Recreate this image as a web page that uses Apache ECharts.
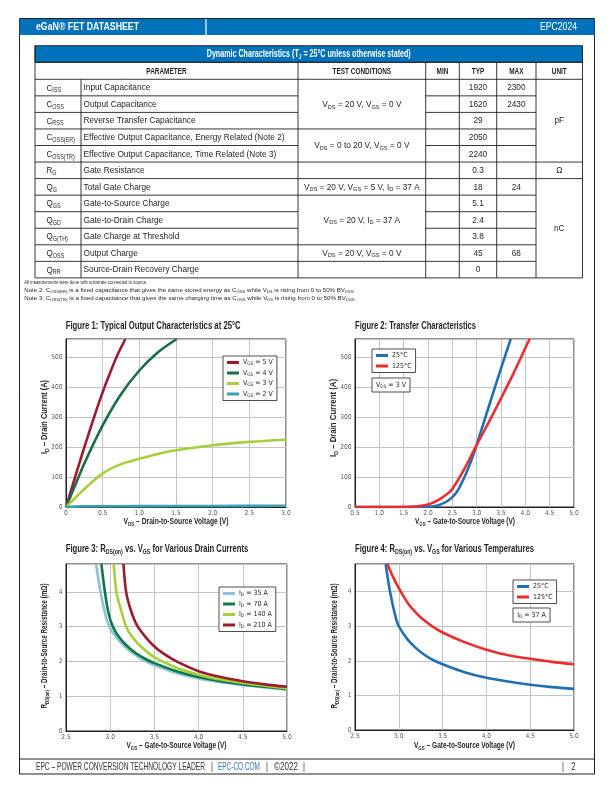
<!DOCTYPE html>
<html><head><meta charset="utf-8">
<script src="https://cdn.jsdelivr.net/npm/echarts@6/dist/echarts.min.js"></script>
<style>html,body{margin:0;padding:0;background:#fff}#c{width:612px;height:792px}</style>
</head><body><div id="c"></div>
<script>
// ================= DATA =================
const tableSymbols = [['C','ISS'],['C','OSS'],['C','RSS'],['C','OSS(ER)'],['C','OSS(TR)'],['R','G'],['Q','G'],['Q','GS'],['Q','GD'],['Q','G(TH)'],['Q','OSS'],['Q','RR']];
const tableParams = ['Input Capacitance','Output Capacitance','Reverse Transfer Capacitance','Effective Output Capacitance, Energy Related (Note 2)','Effective Output Capacitance, Time Related (Note 3)','Gate Resistance','Total Gate Charge','Gate-to-Source Charge','Gate-to-Drain Charge','Gate Charge at Threshold','Output Charge','Source-Drain Recovery Charge'];
const tableMin = ['','','','','','','','','','','',''];
const tableTyp = ['1920','1620','29','2050','2240','0.3','18','5.1','2.4','3.8','45','0'];
const tableMax = ['2300','2430','','','','','24','','','','68',''];
const tableConditions = [[0,2,'V{s|DS} = 20 V, V{s|GS} = 0 V'],[3,4,'V{s|DS} = 0 to 20 V, V{s|GS} = 0 V'],[5,5,''],[6,6,'V{s|DS} = 20 V, V{s|GS} = 5 V, I{s|D} = 37 A'],[7,9,'V{s|DS} = 20 V, I{s|D} = 37 A'],[10,10,'V{s|DS} = 20 V, V{s|GS} = 0 V'],[11,11,'']];
const tableUnits = [[0,4,'pF'],[5,5,'Ω'],[6,11,'nC']];
const tableHeaders = ['PARAMETER','TEST CONDITIONS','MIN','TYP','MAX','UNIT'];
const notes = ['All measurements were done with substrate connected to source.',
 'Note 2: C{s|OSS(ER)} is a fixed capacitance that gives the same stored energy as C{s|OSS} while V{s|DS} is rising from 0 to 50% BV{s|DSS}.',
 'Note 3: C{s|OSS(TR)} is a fixed capacitance that gives the same charging time as C{s|OSS} while V{s|DS} is rising from 0 to 50% BV{s|DSS}.'];

// Figure 1: ID vs VDS
const fig1Names = ['V{s|GS} = 5 V','V{s|GS} = 4 V','V{s|GS} = 3 V','V{s|GS} = 2 V'];
const fig1_vgs5 = [[0,0],[0.1,80],[0.2,160],[0.3,237],[0.4,312],[0.5,383],[0.6,447],[0.7,506],[0.81,560]];
const fig1_vgs4 = [[0,0],[0.1,58],[0.25,145],[0.5,272],[0.75,376],[1.0,455],[1.25,515],[1.51,560]];
const fig1_vgs3 = [[0,0],[0.1,24],[0.25,60],[0.5,112],[0.75,143],[1.0,161],[1.25,177],[1.5,189],[2.0,206],[2.5,217],[3.0,224]];
const fig1_vgs2 = [[0,0],[0.2,2],[1.0,3],[2.0,3.5],[3.0,4]];

// Figure 2: transfer
const fig2Names = ['25°C','125°C'];
const fig2_25C = [[0.5,0],[1.5,0],[1.9,0.3],[2.1,2],[2.25,8],[2.4,20],[2.5,33],[2.6,52],[2.75,100],[2.9,160],[3.0,208],[3.25,335],[3.5,462],[3.7,560]];
const fig2_125C = [[0.5,0],[1.5,0],[1.75,1.5],[2.0,8],[2.2,22],[2.4,44],[2.5,60],[2.75,128],[3.0,207],[3.25,283],[3.5,362],[3.75,443],[4.0,530],[4.09,560]];

// Figure 3: RDS(on) vs VGS, various ID
const fig3Names = ['I{s|D} = 35 A','I{s|D} = 70 A','I{s|D} = 140 A','I{s|D} = 210 A'];
const fig3_35A = [[2.84,4.8],[2.89,4.0],[2.95,3.3],[3.0,2.95],[3.1,2.6],[3.2,2.35],[3.3,2.16],[3.4,2.01],[3.5,1.89],[3.75,1.67],[4.0,1.51],[4.25,1.4],[4.5,1.32],[4.75,1.25],[5.0,1.19]];
const fig3_70A = [[2.9,4.8],[2.94,4.0],[2.98,3.4],[3.03,3.0],[3.1,2.7],[3.2,2.42],[3.3,2.22],[3.4,2.07],[3.5,1.95],[3.75,1.72],[4.0,1.55],[4.25,1.43],[4.5,1.34],[4.75,1.27],[5.0,1.21]];
const fig3_140A = [[3.04,4.8],[3.07,4.0],[3.12,3.5],[3.18,3.0],[3.25,2.7],[3.35,2.42],[3.5,2.12],[3.75,1.82],[4.0,1.62],[4.25,1.48],[4.5,1.38],[4.75,1.3],[5.0,1.23]];
const fig3_210A = [[3.15,4.8],[3.18,4.0],[3.23,3.5],[3.3,3.05],[3.4,2.7],[3.5,2.43],[3.6,2.23],[3.75,2.0],[4.0,1.72],[4.25,1.55],[4.5,1.43],[4.75,1.34],[5.0,1.27]];

// Figure 4: RDS(on) vs VGS, various temperatures
const fig4Names = ['25°C','125°C'];
const fig4_25C = [[2.85,4.8],[2.9,4.0],[2.96,3.3],[3.0,3.0],[3.1,2.62],[3.2,2.36],[3.3,2.16],[3.4,2.01],[3.5,1.9],[3.75,1.67],[4.0,1.51],[4.25,1.4],[4.5,1.31],[4.75,1.24],[5.0,1.19]];
const fig4_125C = [[2.87,4.8],[2.93,4.45],[3.0,4.1],[3.1,3.68],[3.2,3.38],[3.3,3.15],[3.4,2.97],[3.5,2.82],[3.75,2.54],[4.0,2.32],[4.25,2.16],[4.5,2.06],[4.75,1.97],[5.0,1.9]];

// ================= STYLE / LAYOUT =================
const FR = "'Liberation Sans',Arial,sans-serif";
const FC = "'DejaVu Sans Condensed','Liberation Sans',sans-serif";
const INK = '#231f20', BLUE = '#0071bb', GRIDC = '#c4c4c4', TICKC = '#58595b';
const SUB = 0.68;

const cv = document.createElement('canvas').getContext('2d');
function segs(str){ const out=[]; const re=/\{(\w+)\|([^}]*)\}/g; let last=0,m;
  while((m=re.exec(str))){ if(m.index>last) out.push(['',str.slice(last,m.index)]); out.push([m[1],m[2]]); last=re.lastIndex; }
  if(last<str.length) out.push(['',str.slice(last)]); return out; }
function measure(str,fs,fam,fw){ let w=0; for(const [k,t] of segs(str)){ cv.font=`${fw} ${k==='s'?fs*SUB:fs}px ${fam}`; w+=cv.measureText(t).width; } return w; }
function richFor(fs,fam,fw,col){ return { s:{fontSize:fs*SUB,fontFamily:fam,fontWeight:fw,fill:col,color:col,verticalAlign:'bottom',lineHeight:fs*0.5} }; }

const g = [];
function rect(x,y,w,h,fill,stroke,lw){ g.push({type:'rect',silent:true,z:5,shape:{x,y,width:w,height:h},style:{fill:fill||'none',stroke:stroke||null,lineWidth:lw||1}}); }
function line(x1,y1,x2,y2,col,lw){ g.push({type:'line',silent:true,z:6,shape:{x1,y1,x2,y2},style:{stroke:col||INK,lineWidth:lw||0.9}}); }
function txt(x,y,str,o){
  const fs=o.fs, fam=o.fam||FR, fw=o.fw||'normal', col=o.col||INK;
  let sx=o.sx||1; if(o.w) sx=o.w/measure(str,fs,fam,fw);
  g.push({type:'text',silent:true,z:7,x,y,rotation:o.rot||0,scaleX:sx,
    style:{text:str,x:0,y:0,fill:col,fontSize:fs,fontFamily:fam,fontWeight:fw,lineHeight:fs*1.2,
      align:o.align||'left',verticalAlign:'middle',rich:richFor(fs,fam,fw,col)}});
  return sx;
}

// ---- page frame & header ----
rect(19.5,18.5,575,755.5,'none',INK,1);
rect(19.5,19,575,16,BLUE,null);
line(206,19,206,35,'#ffffff',1.2);
txt(36,27.2,'eGaN® FET DATASHEET',{fs:11.5,fw:'bold',col:'#fff',w:103});
txt(577,27.2,'EPC2024',{fs:11.5,col:'#fff',w:37,align:'right'});

// ---- table ----
const TX = [35,81,298,425.7,459.3,496.7,536,582.5];
const TT = 45.7, TH = 62.3, RT = 79.3, RH = 16.55, NR = tableParams.length, TB = RT+NR*RH;
rect(TX[0],TT,TX[7]-TX[0],TH-TT,BLUE,INK,0.9);
txt((TX[0]+TX[7])/2,54.2,'Dynamic Characteristics (T{s|J} = 25°C unless otherwise stated)',{fs:10,fw:'bold',col:'#fff',w:204,align:'center'});
line(TX[0],TT,TX[0],TB); line(TX[7],TT,TX[7],TB);
line(TX[0],TH,TX[7],TH); line(TX[0],RT,TX[7],RT); line(TX[0],TB,TX[7],TB);
line(TX[1],RT,TX[1],TB);
for(let c=2;c<7;c++) line(TX[c],TH,TX[c],TB);
function inGroup(groups,k){ return groups.some(gr=>k>gr[0]&&k<=gr[1]); }
for(let k=1;k<NR;k++){
  const y=RT+k*RH;
  line(TX[0],y,TX[2],y);
  if(!inGroup(tableConditions,k)) line(TX[2],y,TX[3],y);
  line(TX[3],y,TX[6],y);
  if(!inGroup(tableUnits,k)) line(TX[6],y,TX[7],y);
}
const hdrX = [(TX[0]+TX[2])/2,(TX[2]+TX[3])/2,(TX[3]+TX[4])/2,(TX[4]+TX[5])/2,(TX[5]+TX[6])/2,(TX[6]+TX[7])/2];
const hsx = 58.6/measure('TEST CONDITIONS',9,FR,'bold');
tableHeaders.forEach((h,i)=>txt(hdrX[i],(TH+RT)/2+0.3,h,{fs:9,fw:'bold',sx:hsx,align:'center'}));
const bsx = 201/measure(tableParams[3],9,FR,'normal');
const rowY = i=>RT+(i+0.5)*RH+0.3;
for(let i=0;i<NR;i++){
  txt(46.5,rowY(i),tableSymbols[i][0]+'{s|'+tableSymbols[i][1]+'}',{fs:9.5,sx:bsx*0.92});
  txt(TX[1]+2.5,rowY(i),tableParams[i],{fs:9,sx:bsx});
  if(tableMin[i]) txt(hdrX[2],rowY(i),tableMin[i],{fs:9,sx:bsx,align:'center'});
  if(tableTyp[i]) txt(hdrX[3],rowY(i),tableTyp[i],{fs:9,sx:bsx,align:'center'});
  if(tableMax[i]) txt(hdrX[4],rowY(i),tableMax[i],{fs:9,sx:bsx,align:'center'});
}
tableConditions.forEach(([a,b,t])=>{ if(t) txt(hdrX[1],(rowY(a)+rowY(b))/2,t,{fs:9,sx:bsx,align:'center'}); });
tableUnits.forEach(([a,b,t])=>txt(hdrX[5],(rowY(a)+rowY(b))/2,t,{fs:9,sx:bsx,align:'center'}));
txt(24.2,282.6,notes[0],{fs:6,w:123});
txt(24.2,290.6,notes[1],{fs:6,w:331});
txt(24.2,298.6,notes[2],{fs:6,w:332});

// ---- footer ----
line(19.5,759,594.5,759,INK,1);
txt(36,767,'EPC – POWER CONVERSION TECHNOLOGY LEADER',{fs:11,w:169,col:'#333'});
txt(212,767,'|',{fs:11,sx:0.7,col:'#333',align:'center'});
txt(218,767,'EPC-CO.COM',{fs:11,w:42,col:'#3b75b5'});
txt(267,767,'|',{fs:11,sx:0.7,col:'#333',align:'center'});
txt(274,767,'©2022',{fs:11,w:24,col:'#333'});
txt(304,767,'|',{fs:11,sx:0.7,col:'#333',align:'center'});
txt(563,767,'|',{fs:11,sx:0.7,col:'#333',align:'center'});
txt(573.5,767,'2',{fs:11,sx:0.7,col:'#333',align:'center'});

// ---- figure titles & axis names ----
txt(65.7,326,'Figure 1: Typical Output Characteristics at 25°C',{fs:11,fw:'bold',w:175});
txt(355,325.5,'Figure 2: Transfer Characteristics',{fs:11,fw:'bold',w:121});
txt(65.7,548.5,'Figure 3: R{s|DS(on)} vs. V{s|GS} for Various Drain Currents',{fs:11,fw:'bold',w:182.6});
txt(355,548.5,'Figure 4: R{s|DS(on)} vs. V{s|GS} for Various Temperatures',{fs:11,fw:'bold',w:179});
txt(176,521.5,'V{s|DS} – Drain-to-Source Voltage (V)',{fs:9,fw:'bold',w:105,align:'center'});
txt(465,522,'V{s|GS} – Gate-to-Source Voltage (V)',{fs:9,fw:'bold',w:100,align:'center'});
txt(176.5,745.7,'V{s|GS} – Gate-to-Source Voltage (V)',{fs:9,fw:'bold',w:100,align:'center'});
txt(464.5,745.7,'V{s|GS} – Gate-to-Source Voltage (V)',{fs:9,fw:'bold',w:101,align:'center'});
txt(44.8,417,'I{s|D} – Drain Current (A)',{fs:9,fw:'bold',w:74,align:'center',rot:Math.PI/2});
txt(334,418,'I{s|D} – Drain Current (A)',{fs:9,fw:'bold',w:78,align:'center',rot:Math.PI/2});
txt(45,646,'R{s|DS(on)} – Drain-to-Source Resistance (mΩ)',{fs:9,fw:'bold',w:125,align:'center',rot:Math.PI/2});
txt(334.5,646,'R{s|DS(on)} – Drain-to-Source Resistance (mΩ)',{fs:9,fw:'bold',w:125,align:'center',rot:Math.PI/2});

// extra condition boxes
rect(372,378,38,14,'#fff',INK,0.8);
txt(391,385,'V{s|DS} = 3 V',{fs:7,fam:FC,align:'center'});
rect(513,608,37,14,'#fff',INK,0.8);
txt(531.5,615,'I{s|D} = 37 A',{fs:7,fam:FC,align:'center'});

// ================= CHART =================
const grids = [
  {left:66,top:339,width:220,height:168},
  {left:355,top:339,width:219,height:168},
  {left:66,top:564,width:221,height:167},
  {left:355,top:564,width:219,height:166}
].map(o=>Object.assign({show:true,borderColor:INK,borderWidth:1,backgroundColor:'#fff',containLabel:false},o));

const fmt1 = v=>v===0?'0':v.toFixed(1);
function xAx(gi,min,max,fmt){ return {type:'value',gridIndex:gi,min,max,interval:0.5,
  axisLine:{show:true,onZero:false,lineStyle:{color:INK,width:1}},axisTick:{show:false},
  splitLine:{show:true,lineStyle:{color:GRIDC,width:1}},
  axisLabel:{fontSize:6.6,fontFamily:FC,color:TICKC,margin:3,formatter:fmt}}; }
function yAx(gi,max,interval){ return {type:'value',gridIndex:gi,min:0,max,interval,
  axisLine:{show:true,onZero:false,lineStyle:{color:INK,width:1}},axisTick:{show:false},
  splitLine:{show:true,lineStyle:{color:GRIDC,width:1}},
  axisLabel:{fontSize:6.6,fontFamily:FC,color:TICKC,margin:3.5,showMaxLabel:false}}; }

const C1 = ['#9b1b30','#1b6e43','#a7cf3b','#3aa0b4'];
const C2 = ['#1f6fb6','#ec2d2f'];
const C3 = ['#8fc2d6','#0b7a48','#a7cf3b','#9b1b30'];
const C4 = ['#1f6fb6','#ec2d2f'];

function ser(id,gi,data,color){ return {id,name:id,type:'line',xAxisIndex:gi,yAxisIndex:gi,data,showSymbol:false,
  smooth:0.3,lineStyle:{width:2.6,color},itemStyle:{color},z:3,clip:true,silent:true}; }
const labelMap = {};
const series = [];
[[fig1_vgs5,fig1_vgs4,fig1_vgs3,fig1_vgs2],[fig2_25C,fig2_125C],[fig3_35A,fig3_70A,fig3_140A,fig3_210A],[fig4_25C,fig4_125C]].forEach((arr,gi)=>{
  const names=[fig1Names,fig2Names,fig3Names,fig4Names][gi], cols=[C1,C2,C3,C4][gi];
  arr.forEach((d,k)=>{ const id='f'+(gi+1)+'_'+k; labelMap[id]=names[k]; series.push(ser(id,gi,d,cols[k])); });
});
function leg(gi,n,left,top){ const ids=[]; for(let k=0;k<n;k++) ids.push('f'+(gi+1)+'_'+k);
  return {data:ids,orient:'vertical',left,top,icon:'rect',itemWidth:12,itemHeight:3,itemGap:2.5,padding:[2.5,4,2.5,4],
    borderColor:INK,borderWidth:0.8,backgroundColor:'#fff',selectedMode:false,z:8,
    formatter:id=>labelMap[id],
    textStyle:{fontSize:7,fontFamily:FC,color:INK,lineHeight:8,padding:[0,0,0,-1],rich:richFor(7,FC,'normal',INK)}}; }

const option = {
  animation:false,
  grid:grids,
  xAxis:[xAx(0,0,3,fmt1),xAx(1,0.5,5,fmt1),xAx(2,2.5,5,fmt1),xAx(3,2.5,5,fmt1)],
  yAxis:[yAx(0,560,100),yAx(1,560,100),yAx(2,4.8,1),yAx(3,4.8,1)],
  legend:[leg(0,4,223,356),leg(1,2,372,349),leg(2,4,219,587),leg(3,2,513,580)],
  series,
  graphic:g
};
const chart = echarts.init(document.getElementById('c'),null,{renderer:'canvas'});
chart.setOption(option);
</script></body></html>
